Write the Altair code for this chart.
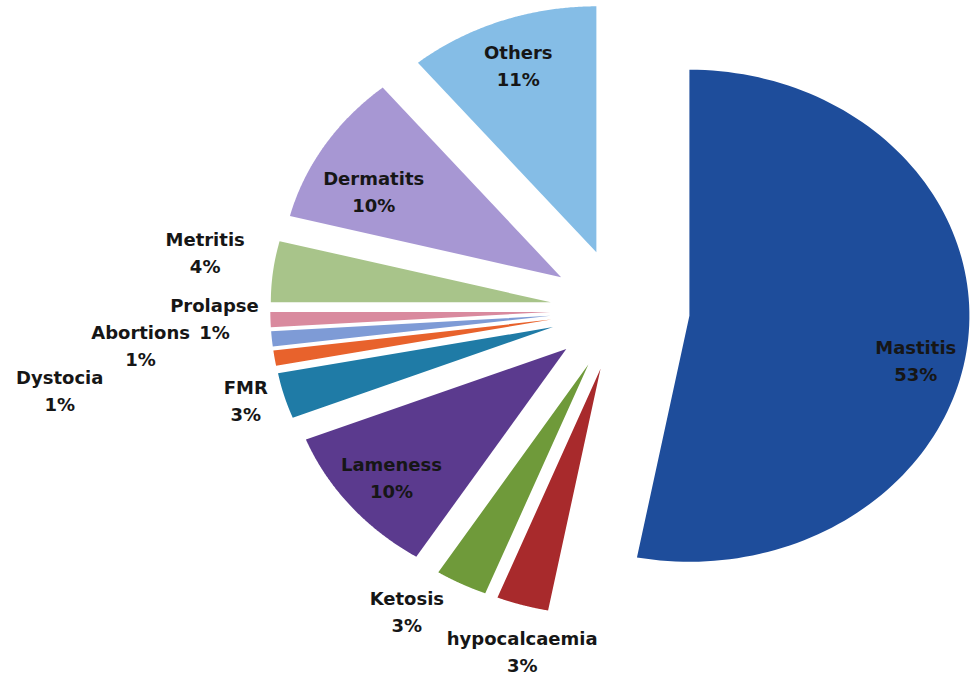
import altair as alt
import pandas as pd

# Share of disease cases (%), clockwise from 12 o'clock
diseases = ["Mastitis", "hypocalcaemia", "Ketosis", "Lameness", "FMR", "Dystocia",
            "Abortions", "Prolapse", "Metritis", "Dermatits", "Others"]
shares = [53, 3, 3, 10, 3, 1, 1, 1, 4, 10, 11]

slice_colors = ["#1E4D9B", "#A82A2C", "#6F9A3A", "#5B3A8E", "#1F7BA6", "#E8622C",
                "#7E9BD6", "#D98A9E", "#A8C48A", "#A797D3", "#85BDE6"]

# Label placement: distance from the slice tip (in radii) and angular nudge (degrees)
label_radius = [0.83, 1.19, 1.20, 0.82, 1.14, 1.78, 1.47, 1.20, 1.25, 0.75, 0.80]
label_nudge = [7.7, -2.6, 5.7, -0.8, 0.5, -0.6, 0.4, 0.2, 1.8, -5.6, -0.6]

EXPLODE = 0.249   # how far every slice is pulled out, in radii
STEPS = 120       # points along each slice's outer edge
LINE_H = 27       # label line height in px

table = pd.DataFrame({
    "disease": diseases,
    "share": shares,
    "slot": list(range(len(diseases))),
    "lr": label_radius,
    "nudge": label_nudge,
})

x_scale = alt.Scale(domain=[-2.2143, 1.25], nice=False, zero=False)
y_scale = alt.Scale(domain=[-1.504, 1.26], nice=False, zero=False)

base = alt.Chart(table).transform_window(
    cum="sum(share)", sort=[alt.SortField("slot")], frame=[None, 0]
).transform_calculate(
    start="datum.cum - datum.share",
    mid="(datum.cum - datum.share / 2) * PI / 50",
)

wedges = base.transform_calculate(
    k=f"sequence(-1, {STEPS + 1})"
).transform_flatten(["k"]).transform_calculate(
    ang=f"datum.k < 0 ? datum.mid : (datum.start + datum.share * datum.k / {STEPS}) * PI / 50",
    rr="datum.k < 0 ? 0 : 1",
    px=f"{EXPLODE} * sin(datum.mid) + datum.rr * sin(datum.ang)",
    py=f"{EXPLODE} * cos(datum.mid) + datum.rr * cos(datum.ang)",
).mark_line(filled=True, clip=True, strokeWidth=0).encode(
    x=alt.X("px:Q", scale=x_scale, axis=None),
    y=alt.Y("py:Q", scale=y_scale, axis=None),
    color=alt.Color("disease:N", scale=alt.Scale(domain=diseases, range=slice_colors), legend=None),
    order=alt.Order("k:Q"),
)

# Two-line labels (name, percentage), block centred on the computed point
labels = base.transform_calculate(
    la="datum.mid + datum.nudge * PI / 180",
    lx=f"{EXPLODE} * sin(datum.mid) + datum.lr * sin(datum.la)",
    ly=f"{EXPLODE} * cos(datum.mid) + datum.lr * cos(datum.la)",
    txt="[datum.disease, datum.share + '%']",
).mark_text(
    font="DejaVu Sans", fontWeight="bold", fontSize=18, lineHeight=LINE_H,
    color="#161616", align="center", baseline="middle", dy=-LINE_H / 2,
).encode(
    x=alt.X("lx:Q", scale=x_scale, axis=None),
    y=alt.Y("ly:Q", scale=y_scale, axis=None),
    text="txt:N",
)

chart = alt.layer(wedges, labels).properties(
    width=970, height=680, padding=0, autosize="none", background="white"
).configure_view(stroke=None)

chart.save("out.html", embed_options={"renderer": "svg", "actions": False})
